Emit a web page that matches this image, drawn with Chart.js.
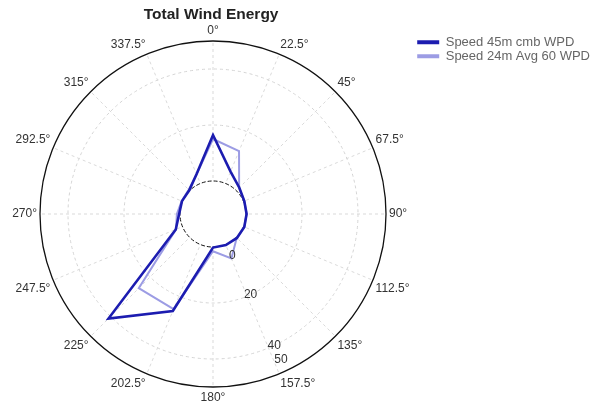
<!DOCTYPE html>
<html>
<head>
    <title>Total Wind Energy</title>
    <script src="https://cdn.jsdelivr.net/npm/chart.js"></script>
    <style>
body {
    margin: 0;
    background-color: #ffffff;
}
#wrap {
    width: 608px;
    height: 410px;
}
    </style>
</head>
<body>
    <div id="wrap">
        <canvas id="windChart"></canvas>
    </div>

    <script>
        // 16 compass sectors, clockwise from north
        const directions = ['0°', '22.5°', '45°', '67.5°', '90°', '112.5°', '135°', '157.5°',
                            '180°', '202.5°', '225°', '247.5°', '270°', '292.5°', '315°', '337.5°'];
        const speed45 = [16.4, 4.6, 1.5, 0.3, 0.2, 0.3, 0.3, 0.2, 0.2, 25.7, 41, 2.6, 0.3, 0.2, 0.2, 3.6];
        const speed24 = [15, 12.5, 1.4, 0.3, 0.2, 0.3, 0.2, 5.4, 1.5, 25, 25.7, 2.5, 1.1, 0.3, 0.5, 3.5];
        const radialTicks = [0, 20, 40, 50];
        const holeValue = -11.8; // scale min below zero leaves the empty centre

        const FONT = '"Liberation Sans", Arial, sans-serif';

        // white centre with dashed ring, plus upright radial labels
        const holePlugin = {
            id: 'hole',
            beforeDatasetsDraw(chart) {
                const r = chart.scales.r;
                const ctx = chart.ctx;
                const rad = r.getDistanceFromCenterForValue(0);
                ctx.save();
                ctx.beginPath();
                ctx.arc(r.xCenter, r.yCenter, rad, 0, Math.PI * 2);
                ctx.fillStyle = '#ffffff';
                ctx.fill();
                ctx.setLineDash([4, 2]);
                ctx.strokeStyle = '#111111';
                ctx.lineWidth = 1;
                ctx.stroke();
                ctx.restore();
            },
            afterDatasetsDraw(chart) {
                const r = chart.scales.r;
                const ctx = chart.ctx;
                const a = 155 * Math.PI / 180;
                const shift = {0: 13, 20: 0, 40: 0, 50: -12};
                ctx.save();
                ctx.font = '12px ' + FONT;
                ctx.fillStyle = '#333333';
                ctx.textAlign = 'center';
                ctx.textBaseline = 'middle';
                radialTicks.forEach(v => {
                    const d = r.getDistanceFromCenterForValue(v) + shift[v];
                    ctx.fillText(String(v), r.xCenter + d * Math.sin(a), r.yCenter - d * Math.cos(a));
                });
                ctx.restore();
            }
        };

        new Chart(document.getElementById('windChart'), {
            type: 'radar',
            data: {
                labels: directions,
                datasets: [{
                    label: 'Speed 45m cmb WPD',
                    data: speed45,
                    borderColor: '#1c1cb0',
                    backgroundColor: '#1c1cb0',
                    borderWidth: 2.6,
                    pointRadius: 0,
                    fill: false
                }, {
                    label: 'Speed 24m Avg 60 WPD',
                    data: speed24,
                    borderColor: '#9c9ce4',
                    backgroundColor: '#9c9ce4',
                    borderWidth: 2,
                    pointRadius: 0,
                    fill: false
                }]
            },
            options: {
                responsive: true,
                maintainAspectRatio: false,
                animation: false,
                layout: {padding: {left: 6, right: 8, top: 0, bottom: 5}},
                plugins: {
                    title: {
                        display: true,
                        text: 'Total Wind Energy',
                        color: '#222222',
                        fullSize: false,
                        font: {size: 15.5, weight: 'bold', family: FONT},
                        padding: {top: 5, bottom: 0}
                    },
                    legend: {
                        position: 'right',
                        align: 'start',
                        fullSize: false,
                        title: {display: true, text: '', padding: {top: 10, bottom: 0}, font: {size: 1}},
                        labels: {
                            boxWidth: 22,
                            boxHeight: 4,
                            padding: 1,
                            color: '#333333',
                            font: {size: 13, family: FONT},
                            generateLabels: chart => chart.data.datasets.map((ds, i) => ({
                                text: ds.label,
                                fillStyle: ds.borderColor,
                                strokeStyle: ds.borderColor,
                                lineWidth: 0,
                                hidden: false,
                                datasetIndex: i
                            }))
                        }
                    },
                    tooltip: {enabled: false}
                },
                scales: {
                    r: {
                        min: holeValue,
                        max: 50,
                        startAngle: 0,
                        afterBuildTicks: s => {
                            s.ticks = [holeValue].concat(radialTicks).map(v => ({value: v}));
                        },
                        ticks: {display: false},
                        grid: {
                            circular: true,
                            color: c => {
                                if (!c.tick) return 'rgba(0,0,0,0)';
                                if (c.tick.value === 50) return '#111111';
                                return c.tick.value > 0 ? '#d4d4d4' : 'rgba(0,0,0,0)';
                            },
                            lineWidth: c => (c.tick && c.tick.value === 50) ? 1.3 : 1
                        },
                        border: {
                            dash: c => (c.tick && c.tick.value === 50) ? [] : [3, 3]
                        },
                        angleLines: {color: '#dadada', borderDash: [3, 3]},
                        pointLabels: {
                            color: '#333333',
                            padding: 3,
                            font: {size: 12, family: FONT}
                        }
                    }
                }
            },
            plugins: [holePlugin]
        });
    </script>
</body>
</html>
